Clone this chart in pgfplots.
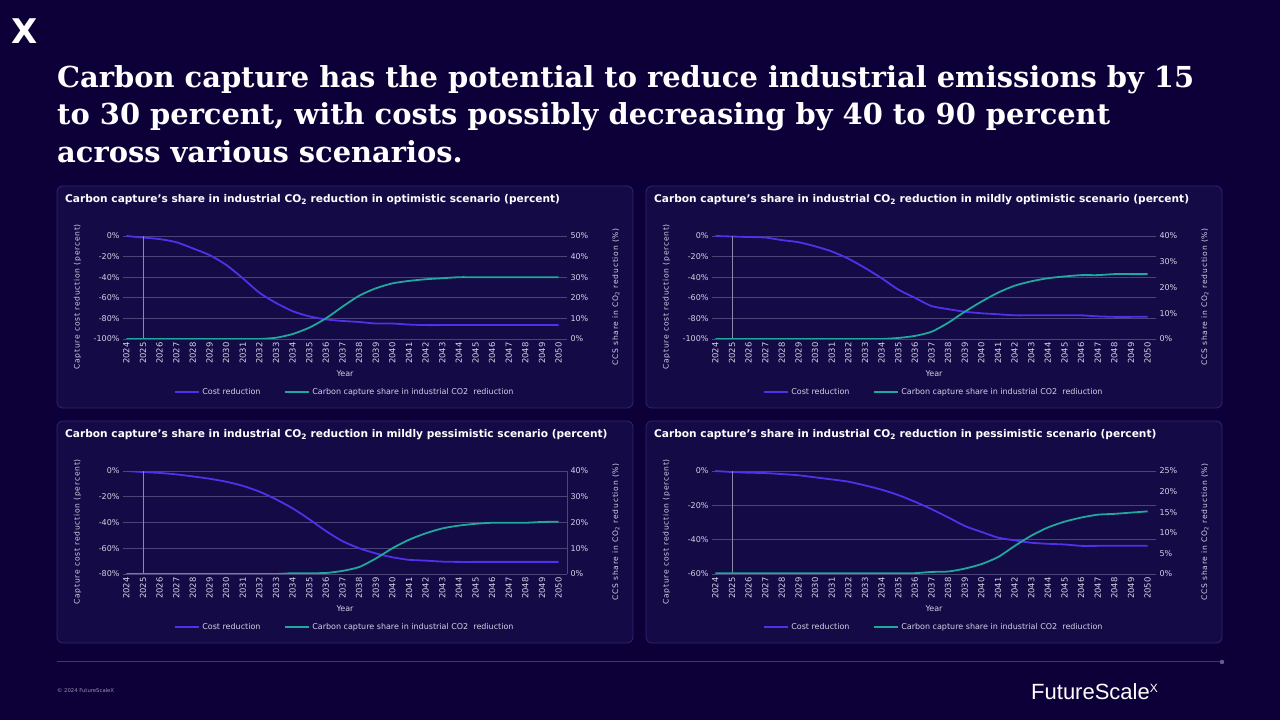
\documentclass[border=0pt]{standalone}
\usepackage{fontspec}
\usepackage{pgfplots}
\usepackage{pgfplotstable}
\pgfplotsset{compat=1.18}
\setmainfont{DejaVu Sans}
\newfontfamily\titlefont{DejaVu Serif}
\newfontfamily\logofont{Liberation Sans}
\definecolor{bg}{HTML}{0D0038}
\definecolor{panelbg}{HTML}{140A45}
\definecolor{panelborder}{HTML}{2E2870}
\definecolor{costc}{HTML}{5230EA}
\definecolor{tealc}{HTML}{1FA89C}
\definecolor{gridc}{HTML}{4A4478}
\definecolor{tickc}{HTML}{D4D1E6}
\definecolor{vlinec}{HTML}{8C88A8}
\definecolor{footc}{HTML}{3B3575}

\pgfplotstableread{
year c1 s1 c2 s2 c3 s3 c4 s4
2024 0 0 0 0 0 0 0 0.2
2025 -1.5 0 -0.5 0 -0.8 0 -0.6 0.2
2026 -3 0 -1 0 -1.5 0 -1 0.2
2027 -6 0 -1.5 0 -2.6 0 -1.2 0.2
2028 -12 0 -4 0 -4.2 0 -1.8 0.2
2029 -18.5 0 -6 0 -6 0 -2.5 0.2
2030 -28 0 -10 0 -8.3 0 -3.7 0.2
2031 -41 0 -15 0 -11.5 0 -4.9 0.2
2032 -55 0 -22 0 -16 0 -6.2 0.2
2033 -65 0.6 -31 0 -22 0 -8.4 0.2
2034 -73 2.4 -41 0 -29 0.3 -10.9 0.2
2035 -78 5.5 -52 0.4 -37.5 0.3 -14 0.2
2036 -81 10 -60 1.2 -46.6 0.4 -17.9 0.2
2037 -82.5 15.7 -68 2.8 -54.5 1.2 -22.2 0.5
2038 -83.5 21 -71 6.3 -60 2.7 -27 0.6
2039 -85 24.6 -73.5 10.6 -64 6 -32 1.3
2040 -85 27 -75 14.5 -67 10 -35.5 2.4
2041 -86 28.2 -76 18 -69 13.3 -38.8 4.1
2042 -86.5 29 -77 20.7 -69.6 15.8 -40.4 6.8
2043 -86.5 29.5 -77 22.4 -70.4 17.7 -41.8 9.3
2044 -86.5 30 -77 23.6 -70.6 18.8 -42.4 11.3
2045 -86.5 30 -77 24.3 -70.6 19.5 -42.8 12.7
2046 -86.5 30 -77 24.8 -70.6 19.9 -43.6 13.7
2047 -86.5 30 -78 24.8 -70.6 19.9 -43.6 14.4
2048 -86.5 30 -78.5 25.2 -70.6 19.9 -43.6 14.6
2049 -86.5 30 -78.5 25.2 -70.6 20.2 -43.6 14.9
2050 -86.5 30 -78.5 25.2 -70.6 20.3 -43.6 15.2
}\datatable

\tikzset{lbl/.style={font=\fontsize{7.6}{8}\selectfont\addfontfeature{LetterSpace=10}, text=tickc}}
\pgfplotsset{
  panelbase/.style={
    scale only axis, width=444pt, height=103pt,
    xmin=2023.8, xmax=2050.5,
    axis line style={draw=none},
    major tick length=0pt,
    /pgf/number format/.cd, 1000 sep={}, assume math mode=true, /pgfplots/.cd,
    tick label style={font=\fontsize{8}{9}\selectfont, text=tickc},
  },
}

\newcommand{\panel}[6]{%
  \draw[rounded corners=6pt, fill=panelbg, draw=panelborder, line width=0.8pt]
     ({57+#1},{534-#2}) rectangle ({633+#1},{312-#2});
  \node[anchor=base west, text=white, inner sep=0pt,
        font=\bfseries\fontsize{10.6}{12}\selectfont] at ({65+#1},{517-#2})
     {Carbon capture’s share in industrial CO\textsubscript{2} reduction in #4 scenario (percent)};
  \begin{axis}[panelbase, at={({123pt+#1pt},{381pt-#2pt})}, anchor=south west,
     ymajorgrids, grid style={gridc, line width=0.6pt},
     xtick={2024,...,2050},
     xticklabel style={rotate=90, anchor=east, font=\fontsize{8.4}{9}\selectfont},
     xlabel={Year},
     x label style={at={(axis description cs:0.5,-0.34)}, anchor=center, font=\fontsize{8}{9}\selectfont, text=tickc},
     ylabel={Capture cost reduction (percent)},
     y label style={at={(axis description cs:-0.1025,0.408)}, anchor=center, lbl},
     legend style={at={(0.5,-0.515)}, anchor=center, draw=none, fill=none,
        text=tickc, font=\fontsize{8}{9}\selectfont, legend columns=2,
        /tikz/every even column/.append style={column sep=22pt}},
     legend image code/.code={\draw[##1] (0pt,0pt) -- (24pt,0pt);},
     #5]
    \addplot[costc, line width=1.8pt, smooth, tension=0.4] table[x=year, y=c#3] {\datatable};
    \addlegendentry{Cost reduction}
    \addlegendimage{tealc, line width=1.8pt}
    \addlegendentry{Carbon capture share in industrial CO2\ \ rediuction}
  \end{axis}
  \begin{axis}[panelbase, at={({123pt+#1pt},{381pt-#2pt})}, anchor=south west,
     xtick=\empty, yticklabel pos=right,
     ylabel={CCS share in CO\textsubscript{2} reduction (\%)},
     y label style={at={(axis description cs:1.110,0.408)}, anchor=center, lbl},
     yticklabel={\pgfmathprintnumber{\tick}\%},
     #6]
    \addplot[tealc, line width=1.8pt, smooth, tension=0.4] table[x=year, y=s#3] {\datatable};
  \end{axis}
}

\begin{document}
\begin{tikzpicture}[x=1pt, y=1pt]
\fill[bg] (0,0) rectangle (1280,720);
% logo
\node[anchor=base west, text=white, inner sep=0pt, font=\bfseries\fontsize{34}{34}\selectfont] at (11,676) {X};
% headline
\begin{scope}[every node/.style={anchor=base west, text=white, inner sep=0pt, font=\titlefont\bfseries\fontsize{28.9}{32}\selectfont}]
\node at (57,632) {Carbon capture has the potential to reduce industrial emissions by 15};
\node at (57,595) {to 30 percent, with costs possibly decreasing by 40 to 90 percent};
\node at (57,557) {across various scenarios.};
\end{scope}

\panel{0}{0}{1}{optimistic}
  {ymin=-100, ymax=0, ytick={-100,-80,-60,-40,-20,0}, yticklabels={-100\%,-80\%,-60\%,-40\%,-20\%,0\%},
   extra description/.code={\draw[vlinec, line width=0.5pt] (axis cs:2025,-100) -- (axis cs:2025,0);}}
  {ymin=0, ymax=50, ytick={0,10,...,50}}
\panel{589}{0}{2}{mildly optimistic}
  {ymin=-100, ymax=0, ytick={-100,-80,-60,-40,-20,0}, yticklabels={-100\%,-80\%,-60\%,-40\%,-20\%,0\%},
   extra description/.code={\draw[vlinec, line width=0.5pt] (axis cs:2025,-100) -- (axis cs:2025,0);}}
  {ymin=0, ymax=40, ytick={0,10,...,40}}
\panel{0}{235}{3}{mildly pessimistic}
  {ymin=-80, ymax=0, ytick={-80,-60,-40,-20,0}, yticklabels={-80\%,-60\%,-40\%,-20\%,0\%},
   extra description/.code={\draw[vlinec, line width=0.5pt] (axis cs:2025,-80) -- (axis cs:2025,0);}}
  {ymin=0, ymax=40, ytick={0,10,...,40},
   extra description/.code={\draw[costc, line width=0.8pt] (rel axis cs:1,0) -- (rel axis cs:1,1);}}
\panel{589}{235}{4}{pessimistic}
  {ymin=-60, ymax=0, ytick={-60,-40,-20,0}, yticklabels={-60\%,-40\%,-20\%,0\%},
   extra description/.code={\draw[vlinec, line width=0.5pt] (axis cs:2025,-60) -- (axis cs:2025,0);}}
  {ymin=0, ymax=25, ytick={0,5,...,25}}

% footer
\draw[footc, line width=1pt] (57,58) -- (1222,58);
\fill[footc!80!white] (1222,58) circle (2.2);
\node[anchor=base west, text=tickc!70!bg, inner sep=0pt, font=\fontsize{5.3}{6}\selectfont] at (57,27) {© 2024 FutureScaleX};
\node[anchor=base west, text=white, inner sep=0pt, font=\logofont\fontsize{22}{22}\selectfont] at (1031,20) {FutureScale\raisebox{7pt}{\fontsize{12}{12}\selectfont X}};
\end{tikzpicture}
\end{document}
